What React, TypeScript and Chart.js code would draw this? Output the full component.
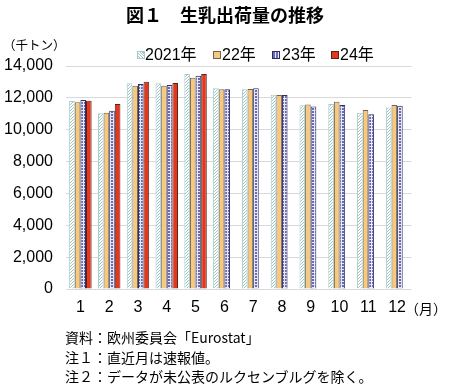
import React, { useEffect, useRef } from "react";
import { Chart, registerables } from "chart.js";

Chart.register(...registerables);

const months = ["1", "2", "3", "4", "5", "6", "7", "8", "9", "10", "11", "12"];
const y2021 = [11800, 11030, 12910, 12910, 13500, 12600, 12540, 12200, 11530, 11610, 11070, 11400];
const y2022 = [11720, 11070, 12760, 12760, 13270, 12540, 12560, 12180, 11590, 11760, 11240, 11550];
const y2023 = [11860, 11190, 12870, 12810, 13390, 12540, 12600, 12180, 11450, 11550, 10970, 11510];
const y2024 = [11820, 11610, 13010, 12930, 13500, null, null, null, null, null, null, null];
const yTicks = [0, 2000, 4000, 6000, 8000, 10000, 12000, 14000];
const legendNames = ["2021年", "22年", "23年", "24年"];

const FONT = "'Liberation Sans', 'Noto Sans CJK JP', sans-serif";
const JFONT = "'Noto Sans CJK JP', 'Liberation Sans', sans-serif";

function makePattern(kind: string): CanvasPattern | string {
  const c = document.createElement("canvas");
  const ctx = c.getContext("2d")!;
  if (kind === "dots") {
    c.width = 3; c.height = 3;
    ctx.fillStyle = "#ffffff";
    ctx.fillRect(0, 0, 3, 3);
    ctx.fillStyle = "#9cc8c4";
    ctx.fillRect(0, 0, 1, 1);
    ctx.fillRect(1, 2, 1, 1);
    ctx.fillRect(2, 1, 1, 1);
  } else if (kind === "grid") {
    c.width = 3; c.height = 3;
    ctx.fillStyle = "#6a6ab8";
    ctx.fillRect(0, 0, 3, 3);
    ctx.fillStyle = "#e8e8f6";
    ctx.fillRect(2, 0, 1, 3);
    ctx.fillRect(0, 2, 3, 1);
  }
  const p = ctx.createPattern(c, "repeat");
  return p || "#ccc";
}

export default function App() {
  const ref = useRef<HTMLCanvasElement | null>(null);
  useEffect(() => {
    document.body.style.margin = "0";
    if (!ref.current) return;
    const chart = new Chart(ref.current, {
      type: "bar",
      data: {
        labels: months,
        datasets: [
          { label: legendNames[0], data: y2021, backgroundColor: makePattern("dots") as any, borderColor: "#a8c8c8", borderWidth: 1 },
          { label: legendNames[1], data: y2022, backgroundColor: "#f8c87c", borderColor: "#6e6450", borderWidth: 1 },
          { label: legendNames[2], data: y2023, backgroundColor: makePattern("grid") as any, borderColor: "#2e2e5e", borderWidth: 1 },
          { label: legendNames[3], data: y2024 as any, backgroundColor: "#e4381e", borderColor: "#5a2418", borderWidth: 1 },
        ],
      },
      options: {
        animation: false,
        responsive: false,
        maintainAspectRatio: false,
        layout: { padding: { left: 0, top: 66, right: 38.5, bottom: 73 } },
        plugins: { legend: { display: false }, tooltip: { enabled: false }, title: { display: false } },
        datasets: { bar: { categoryPercentage: 0.78, barPercentage: 1.0 } },
        scales: {
          x: {
            grid: { display: false, drawTicks: false },
            border: { display: false },
            ticks: { color: "#000", font: { family: FONT, size: 16 }, padding: 9, maxRotation: 0 },
            afterFit: (s: any) => { s.height = 30; },
          },
          y: {
            min: 0,
            max: 14000,
            afterBuildTicks: (s: any) => { s.ticks = yTicks.map((v) => ({ value: v })); },
            grid: { color: "#d9d9d9", drawTicks: false, lineWidth: 1 },
            border: { display: false },
            ticks: {
              color: "#000",
              font: { family: FONT, size: 16 },
              padding: 13,
              callback: (v: any) => Number(v).toLocaleString("en-US"),
            },
            afterFit: (s: any) => { s.width = 66; },
          },
        },
      },
    });
    return () => chart.destroy();
  }, []);

  const legendItems = [
    { box: 137, text: 145, style: { background: "repeating-linear-gradient(45deg,#fff 0 1px,#9cc8c4 1px 2px)", border: "1px solid #a8c8c8" } },
    { box: 213, text: 222, style: { background: "#f8c87c", border: "1px solid #6e6450" } },
    { box: 272, text: 282, style: { background: "repeating-linear-gradient(90deg,#6a6ab8 0 2px,#e8e8f6 2px 3px)", border: "1px solid #2e2e5e" } },
    { box: 331, text: 340, style: { background: "#e4381e", border: "1px solid #5a2418" } },
  ];

  return (
    <div style={{ position: "absolute", left: 0, top: 0, width: 450, height: 392, background: "#fff", overflow: "hidden" }}>
      <canvas ref={ref} width={450} height={392} style={{ position: "absolute", left: 0, top: 0, width: 450, height: 392 }} />
      <div style={{ position: "absolute", left: 0, top: 3, width: 450, textAlign: "center", fontFamily: JFONT, fontWeight: "bold", fontSize: 18, lineHeight: "22px" }}>
        図１　生乳出荷量の推移
      </div>
      <div style={{ position: "absolute", left: 3, top: 37, fontFamily: JFONT, fontSize: 12.5, lineHeight: "16px" }}>（千トン）</div>
      {legendItems.map((it, i) => (
        <React.Fragment key={i}>
          <div style={{ position: "absolute", left: it.box, top: 51, width: 6, height: 6, ...it.style }} />
          <div style={{ position: "absolute", left: it.text, top: 46, fontFamily: FONT, fontSize: 16, lineHeight: "18px", whiteSpace: "nowrap" }}>{legendNames[i]}</div>
        </React.Fragment>
      ))}
      <div style={{ position: "absolute", left: 405, top: 299, fontFamily: JFONT, fontSize: 14, lineHeight: "18px" }}>（月）</div>
      <div style={{ position: "absolute", left: 65, top: 328, fontFamily: JFONT, fontSize: 14, lineHeight: "19.5px", whiteSpace: "nowrap" }}>
        <div>資料：欧州委員会「Eurostat」</div>
        <div>注１：直近月は速報値。</div>
        <div>注２：データが未公表のルクセンブルグを除く。</div>
      </div>
    </div>
  );
}
